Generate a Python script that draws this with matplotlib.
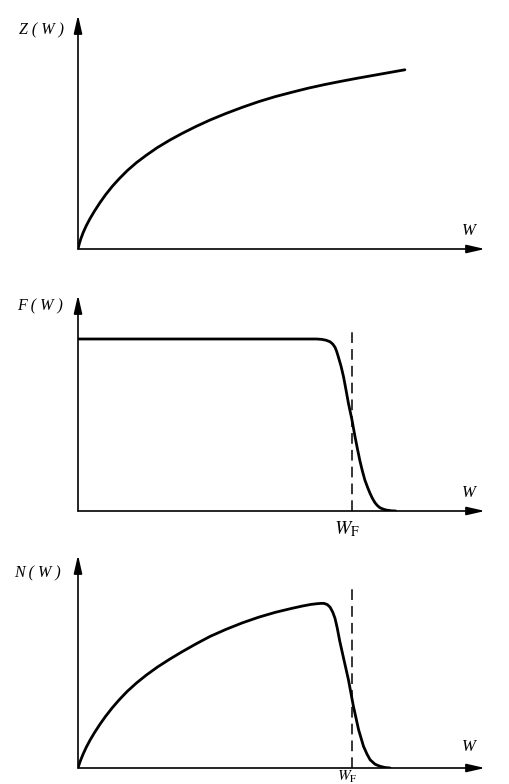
import matplotlib.pyplot as plt

plt.rcParams['mathtext.fontset'] = 'stix'

# values (W in units of W_F, heights in units of the F plateau)
z_w = [0, 0.005, 0.010, 0.019, 0.030, 0.044, 0.060, 0.080, 0.100, 0.125, 0.150,
       0.180, 0.214, 0.250, 0.290, 0.336, 0.380, 0.430, 0.482, 0.540, 0.600,
       0.660, 0.720, 0.780, 0.840, 0.900, 0.960, 1.020, 1.080, 1.140, 1.193]
z_val = [0, 0.032, 0.058, 0.096, 0.135, 0.177, 0.220, 0.269, 0.314, 0.364, 0.408,
         0.456, 0.503, 0.546, 0.590, 0.634, 0.672, 0.712, 0.750, 0.788, 0.824,
         0.857, 0.886, 0.911, 0.935, 0.956, 0.975, 0.993, 1.010, 1.027, 1.042]

f_w = [0, 0.870, 0.889, 0.905, 0.920, 0.930, 0.938, 0.944, 0.950, 0.960, 0.969,
       0.978, 0.987, 1.000, 1.011, 1.020, 1.029, 1.038, 1.047, 1.057, 1.066,
       1.075, 1.084, 1.093, 1.102, 1.115, 1.127, 1.145, 1.160]
f_val = [1.0, 1.0, 0.998, 0.993, 0.984, 0.970, 0.952, 0.928, 0.897, 0.842, 0.781,
         0.705, 0.626, 0.529, 0.432, 0.360, 0.291, 0.232, 0.180, 0.137, 0.102,
         0.072, 0.048, 0.031, 0.019, 0.010, 0.005, 0.001, 0.0]

n_w = [0, 0.005, 0.010, 0.019, 0.030, 0.044, 0.060, 0.080, 0.100, 0.125, 0.150,
       0.180, 0.214, 0.250, 0.290, 0.336, 0.380, 0.430, 0.482, 0.540, 0.600,
       0.660, 0.720, 0.780, 0.820, 0.850, 0.871, 0.886, 0.898, 0.910, 0.920,
       0.930, 0.938, 0.946, 0.955, 0.969, 0.987, 1.005, 1.024, 1.042, 1.055,
       1.066, 1.084, 1.102, 1.120, 1.139]
n_val = [0, 0.025, 0.047, 0.082, 0.120, 0.162, 0.205, 0.254, 0.299, 0.350, 0.396,
         0.446, 0.495, 0.541, 0.587, 0.634, 0.676, 0.721, 0.765, 0.806, 0.844,
         0.877, 0.905, 0.928, 0.942, 0.951, 0.955, 0.957, 0.957, 0.950, 0.935,
         0.905, 0.870, 0.815, 0.740, 0.640, 0.513, 0.360, 0.223, 0.126, 0.080,
         0.048, 0.022, 0.010, 0.003, 0.0]

w_f = 1.0
labels = ['Z ( W )', 'F ( W )', 'N ( W )']

W, H = 510, 784
fig = plt.figure(figsize=(W / 100, H / 100), dpi=100)

# panel boxes in pixels: (axis origin y, top of y arrow)
panels = [(249, 15), (511, 295), (768, 555)]
x0, x1 = 78, 485
scale_x, scale_y = 274, 172

serif = ['Liberation Serif', 'DejaVu Serif']
axes = []
for (yb, yt) in panels:
    ax = fig.add_axes([x0 / W, 1 - yb / H, (x1 - x0) / W, (yb - yt) / H])
    ax.set_xlim(0, (x1 - x0) / scale_x)
    ax.set_ylim(0, (yb - yt) / scale_y)
    ax.axis('off')
    for tip in [(1, 0), (0, 1)]:
        ax.annotate('', xy=tip, xytext=(0, 0), xycoords='axes fraction',
                    arrowprops=dict(arrowstyle='-|>,head_length=1.1,head_width=0.25',
                                    color='black', lw=1.2,
                                    mutation_scale=10, shrinkA=0, shrinkB=0))
    axes.append(ax)

for ax, xs, ys in zip(axes, [z_w, f_w, n_w], [z_val, f_val, n_val]):
    ax.plot(xs, ys, color='black', lw=2.0, solid_capstyle='round',
            solid_joinstyle='round')

axes[1].plot([w_f, w_f], [0, 1.07], color='black', lw=1.1, ls=(0, (7, 4)))
axes[2].plot([w_f, w_f], [0, 1.047], color='black', lw=1.1, ls=(0, (7, 4)))

label_pos = [(42, 30), (40, 306), (37, 573)]
for (lx, ly), lab in zip(label_pos, labels):
    fig.text(lx / W, 1 - ly / H, lab, family=serif, style='italic',
             fontsize=11.5, ha='center', va='center')

for ly in [231, 493, 747]:
    fig.text(469 / W, 1 - ly / H, 'W', family=serif, style='italic',
             fontsize=12, ha='center', va='center')

fig.text(347 / W, 1 - 529 / H, r'$W_{\mathrm{F}}$', fontsize=14,
         ha='center', va='center')
fig.text(347 / W, 1 - 777 / H, r'$W_{\mathrm{F}}$', fontsize=11,
         ha='center', va='center')

fig.savefig('out.png', dpi=100)
